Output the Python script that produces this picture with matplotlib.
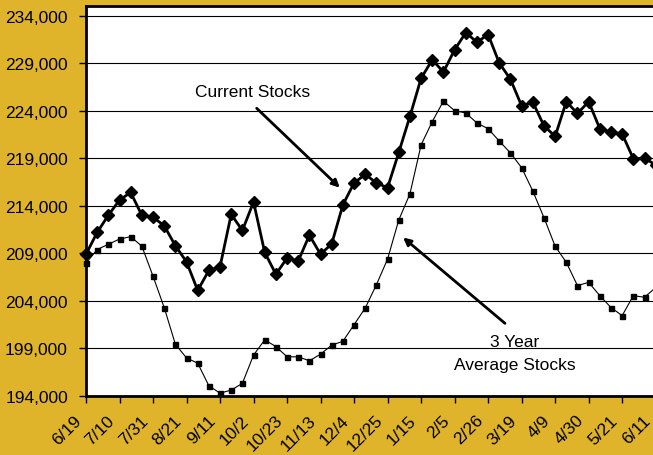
import matplotlib
matplotlib.use("Agg")
import matplotlib.pyplot as plt
from matplotlib.ticker import FuncFormatter
from matplotlib.transforms import ScaledTranslation

# weekly stocks, one value per week starting 6/19
current_stocks = [
    208900, 211200, 213000, 214600, 215400, 213000, 212800, 211900, 209800, 208100,
    205100, 207200, 207600, 213100, 211400, 214400, 209100, 206800, 208500, 208200,
    210900, 208900, 210000, 214100, 216400, 217300, 216400, 215900, 219600, 223400,
    227400, 229350, 228050, 230400, 232200, 231200, 232000, 229000, 227300, 224500,
    224900, 222400, 221300, 224950, 223700, 224950, 222100, 221750, 221550, 218950,
    219000, 218300,
]
avg_stocks = [
    207950, 209400, 209950, 210500, 210750, 209750, 206600, 203300, 199450, 198000,
    197450, 195070, 194300, 194620, 195330, 198300, 199900, 199200, 198120, 198120,
    197700, 198400, 199350, 199750, 201500, 203250, 205700, 208400, 212500, 215250,
    220400, 222850, 225000, 224000, 223750, 222700, 222100, 220800, 219550, 218000,
    215550, 212750, 209750, 208050, 205600, 205950, 204550, 203300, 202450, 204550,
    204380, 205400,
]
week_labels = ["6/19", "7/10", "7/31", "8/21", "9/11", "10/2", "10/23", "11/13", "12/4",
               "12/25", "1/15", "2/5", "2/26", "3/19", "4/9", "4/30", "5/21", "6/11"]
y_ticks = list(range(194000, 235000, 5000))

gold = "#DFB42B"
plt.rcParams["font.family"] = ["Liberation Sans", "DejaVu Sans"]

fig = plt.figure(figsize=(6.53, 4.56), dpi=100)
fig.patch.set_facecolor(gold)
ax = fig.add_axes([86 / 653, 59 / 456, 53 * 11.17 / 653, 390 / 456])
ax.set_facecolor("white")

weeks = list(range(len(current_stocks)))
ax.plot(weeks, avg_stocks, color="black", lw=0.8, marker="s", ms=3.6, zorder=3, clip_on=False)
ax.plot(weeks, current_stocks, color="black", lw=2.0, marker="D", ms=6.5, zorder=4, clip_on=False)

ax.set_xlim(0, 53)
ax.set_ylim(194000, 235000)
ax.set_yticks(y_ticks)
ax.yaxis.set_major_formatter(FuncFormatter(lambda v, p: f"{int(v):,}"))
ax.grid(axis="y", color="black", lw=0.8)
ax.set_axisbelow(True)

ax.set_xticks(range(0, 3 * len(week_labels), 3))
ax.set_xticklabels(week_labels, rotation=45, ha="right", rotation_mode="anchor")
ax.tick_params(axis="both", labelsize=12.5, direction="out", length=5, width=1, color="black")
ax.tick_params(axis="y", pad=8)
ax.tick_params(axis="x", pad=3)

# date labels sit a little left of their tick marks
shift = ScaledTranslation(-12.5 / 100, -5 / 100, fig.dpi_scale_trans)
for lbl in ax.get_xticklabels():
    lbl.set_transform(lbl.get_transform() + shift)

for s in ["left", "bottom", "top"]:
    ax.spines[s].set_linewidth(2)
    ax.spines[s].set_color("black")
ax.spines["right"].set_visible(False)

# labels with arrows
ax.text(14.95, 226000, "Current Stocks", fontsize=12.5, ha="center", va="center")
ax.annotate("", xy=(22.9, 215700), xytext=(15.1, 224450),
            arrowprops=dict(arrowstyle="-|>", color="black", lw=2, mutation_scale=11))
ax.text(38.4, 199750, "3 Year", fontsize=12.5, ha="center", va="center")
ax.text(38.4, 197280, "Average Stocks", fontsize=12.5, ha="center", va="center")
ax.annotate("", xy=(28.2, 210850), xytext=(37.7, 201450),
            arrowprops=dict(arrowstyle="-|>", color="black", lw=2, mutation_scale=11))

fig.savefig("out.png", dpi=100, facecolor=gold)
